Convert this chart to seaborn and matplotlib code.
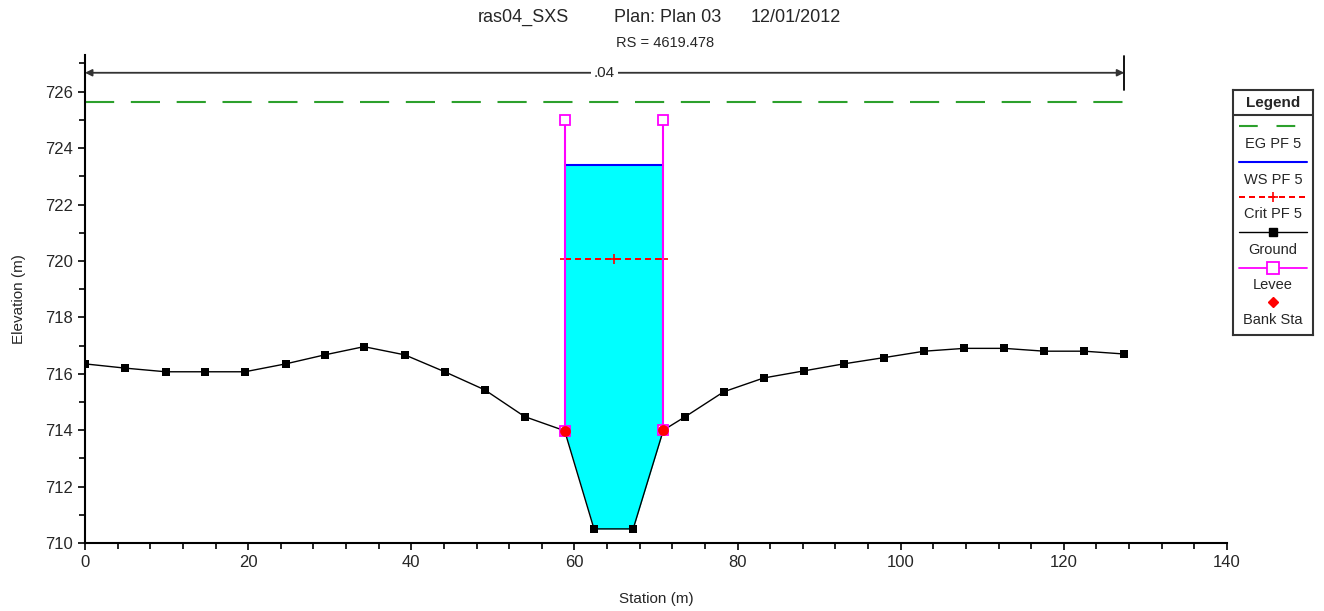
import numpy as np
import pandas as pd
import seaborn as sns
import matplotlib.pyplot as plt
from matplotlib.ticker import MultipleLocator

# ground profile (station m, elevation m)
ground_sta = [0, 4.9, 9.9, 14.7, 19.6, 24.6, 29.4, 34.2, 39.2, 44.1, 49.0, 53.9, 58.8,
              62.4, 67.2, 70.9, 73.6, 78.3, 83.2, 88.1, 93.0, 97.9, 102.9, 107.8,
              112.7, 117.6, 122.5, 127.4]
ground_elev = [716.35, 716.2, 716.07, 716.07, 716.07, 716.35, 716.67, 716.96, 716.67,
               716.07, 715.43, 714.48, 713.98, 710.5, 710.5, 714.0, 714.48, 715.36,
               715.85, 716.1, 716.35, 716.57, 716.8, 716.9, 716.9, 716.8, 716.8, 716.7]

levee_sta = [58.8, 70.9]
levee_top = [725.0, 725.0]
bank_sta = [58.8, 70.9]
bank_elev = [713.98, 714.0]

eg_elev = 725.65
ws_elev = 723.41
crit_elev = 720.08
crit_sta = [58.8, 64.8, 70.9]
mann_n = ".04"
n_range = [0, 127.4]

df = pd.DataFrame({"Station (m)": ground_sta, "Elevation (m)": ground_elev})

sns.set_style("ticks")
plt.rcParams["font.family"] = ["Liberation Sans", "DejaVu Sans"]

fig = plt.figure(figsize=(13.24, 6.11), dpi=100)
ax = fig.add_axes([85 / 1324, 1 - 543 / 611, (1227 - 85) / 1324, (543 - 55) / 611])

# water in channel
ch = df[(df["Station (m)"] >= bank_sta[0]) & (df["Station (m)"] <= bank_sta[1])]
ax.fill_between(ch["Station (m)"], ch["Elevation (m)"], ws_elev, color="#00ffff", lw=0, zorder=1)

# EG
ax.plot(n_range, [eg_elev, eg_elev], color="#2ca02c", lw=1.5, dashes=(14, 8), zorder=2)
# WS
ax.plot(bank_sta, [ws_elev, ws_elev], color="#0000ff", lw=1.5, zorder=3)
# Crit
ax.plot(crit_sta, [crit_elev] * 3, color="#ff0000", lw=1.3, ls=(0, (3, 2.5)), marker="+",
        ms=7, mew=1.2, zorder=3, antialiased=False)

# ground
sns.lineplot(data=df, x="Station (m)", y="Elevation (m)", ax=ax, color="black", lw=1,
             marker="s", markersize=6, markeredgewidth=0, zorder=4)

# levees
for s, top, bot in zip(levee_sta, levee_top, bank_elev):
    ax.plot([s, s], [top, bot], color="#ff00ff", lw=1.5, marker="s", ms=7,
            mfc="white", mec="#ff00ff", mew=1.3, zorder=5)

# bank stations
sns.scatterplot(x=bank_sta, y=bank_elev, ax=ax, color="#ff0000", marker="o", s=60,
                linewidth=0, zorder=6)

# manning n arrow
y_arr = 726.67
ax.annotate("", xy=(n_range[0], y_arr), xytext=(n_range[1], y_arr),
            arrowprops=dict(arrowstyle="<|-|>", color="#333333", lw=1.3,
                            mutation_scale=10, shrinkA=0, shrinkB=0), zorder=2)
ax.text(sum(n_range) / 2, y_arr, mann_n, ha="center", va="center", fontsize=11,
        bbox=dict(fc="white", ec="none", pad=2), zorder=3)
ax.plot([n_range[1], n_range[1]], [726.06, 727.27], color="black", lw=1.3, zorder=3)

ax.set_xlim(0, 140)
ax.set_ylim(710, 727.3)
ax.xaxis.set_major_locator(MultipleLocator(20))
ax.xaxis.set_minor_locator(MultipleLocator(4))
ax.yaxis.set_major_locator(MultipleLocator(2))
ax.yaxis.set_minor_locator(MultipleLocator(1))
ax.tick_params(which="major", length=5, width=1.2, labelsize=12, color="black")
ax.tick_params(which="minor", length=4, width=1.2, color="black")
for sp in ["top", "right"]:
    ax.spines[sp].set_visible(False)
for sp in ["left", "bottom"]:
    ax.spines[sp].set_linewidth(1.5)
    ax.spines[sp].set_color("black")
ax.set_xlabel("Station (m)", fontsize=11, labelpad=16)
ax.set_ylabel("Elevation (m)", fontsize=11, labelpad=14)

# titles
fig.text(523 / 1324, 1 - 17 / 611, "ras04_SXS", ha="center", va="center", fontsize=13)
fig.text(668 / 1324, 1 - 17 / 611, "Plan: Plan 03", ha="center", va="center", fontsize=13)
fig.text(796 / 1324, 1 - 17 / 611, "12/01/2012", ha="center", va="center", fontsize=13)
fig.text(665 / 1324, 1 - 43 / 611, "RS = 4619.478", ha="center", va="center", fontsize=10.5)

# legend panel
lg = fig.add_axes([1233 / 1324, 1 - 335 / 611, 80 / 1324, 245 / 611])
lg.set_xlim(0, 80)
lg.set_ylim(245, 0)
lg.set_xticks([])
lg.set_yticks([])
for sp in lg.spines.values():
    sp.set_linewidth(1.5)
    sp.set_color("#333333")
lg.axhline(25, color="#333333", lw=1.5)
lg.text(40, 12.5, "Legend", ha="center", va="center", fontsize=11, fontweight="bold")
lx = [6, 74]
lg.plot(lx, [36, 36], color="#2ca02c", lw=1.5, dashes=(9, 9))
lg.text(40, 54, "EG PF 5", ha="center", va="center", fontsize=10.5)
lg.plot(lx, [72, 72], color="#0000ff", lw=1.5)
lg.text(40, 90, "WS PF 5", ha="center", va="center", fontsize=10.5)
lg.plot(lx, [107, 107], color="#ff0000", lw=1.3, ls=(0, (3, 2.5)), antialiased=False)
lg.plot([40], [107], color="#ff0000", marker="+", ms=7, mew=1.2)
lg.text(40, 124, "Crit PF 5", ha="center", va="center", fontsize=10.5)
lg.plot(lx, [142, 142], color="black", lw=1)
lg.plot([40], [142], color="black", marker="s", ms=6)
lg.text(40, 160, "Ground", ha="center", va="center", fontsize=10.5)
lg.plot(lx, [178, 178], color="#ff00ff", lw=1.3)
lg.plot([40], [178], marker="s", ms=8, mfc="white", mec="#ff00ff", mew=1.3)
lg.text(40, 195, "Levee", ha="center", va="center", fontsize=10.5)
lg.plot([40], [212], color="#ff0000", marker="D", ms=5)
lg.text(40, 230, "Bank Sta", ha="center", va="center", fontsize=10.5)

fig.savefig("out.png", dpi=100)
